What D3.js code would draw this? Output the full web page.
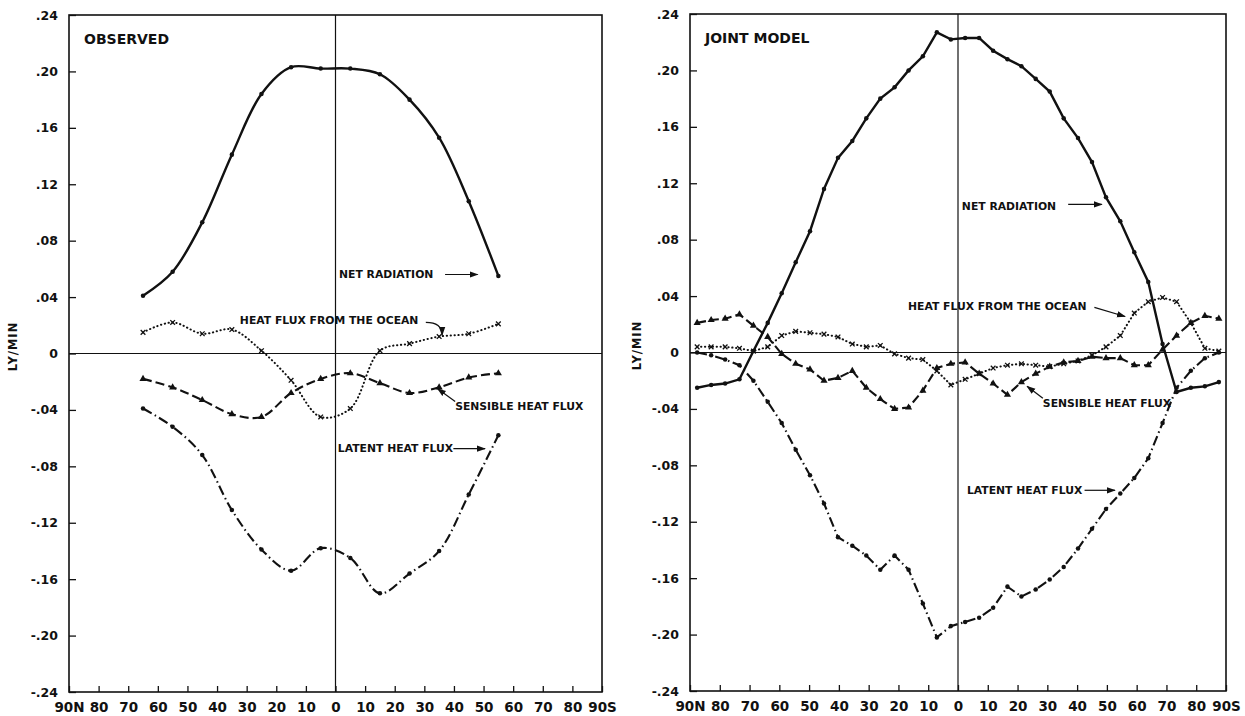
<!DOCTYPE html>
<html>
<head>
<meta charset="utf-8">
<script src="https://cdn.jsdelivr.net/npm/d3@7"></script>
<style>
body { margin: 0; background: #fff; }
svg text { font-family: "DejaVu Sans", sans-serif; font-weight: bold; fill: #111; }
</style>
</head>
<body>
<svg id="chart" width="1245" height="716"></svg>
<script>

// observed zonal means, 10 degree bands (N positive)
var obsLat = [65, 55, 45, 35, 25, 15, 5, -5, -15, -25, -35, -45, -55];
var obsNet = [0.041, 0.058, 0.093, 0.141, 0.184, 0.203, 0.202, 0.202, 0.198, 0.180, 0.153, 0.108, 0.055];
var obsOcean = [0.015, 0.022, 0.014, 0.017, 0.002, -0.019, -0.045, -0.039, 0.002, 0.007, 0.012, 0.014, 0.021];
var obsSens = [-0.018, -0.024, -0.033, -0.043, -0.045, -0.028, -0.018, -0.014, -0.021, -0.028, -0.024, -0.017, -0.014];
var obsLatent = [-0.039, -0.052, -0.072, -0.111, -0.139, -0.154, -0.138, -0.145, -0.170, -0.156, -0.140, -0.100, -0.058];

// joint model grid points
var modelLat = [87.6, 82.9, 78.2, 73.4, 68.7, 63.9, 59.2, 54.5, 49.7, 45.0, 40.3, 35.5, 30.8, 26.1, 21.3, 16.6, 11.8, 7.1, 2.4,
  -2.4, -7.1, -11.8, -16.6, -21.3, -26.1, -30.8, -35.5, -40.3, -45.0, -49.7, -54.5, -59.2, -63.9, -68.7, -73.4, -78.2, -82.9, -87.6];
var modelNet = [-0.025, -0.023, -0.022, -0.019, 0.001, 0.021, 0.042, 0.064, 0.086, 0.116, 0.138, 0.150, 0.166, 0.180, 0.188, 0.200, 0.210, 0.227, 0.222,
  0.223, 0.223, 0.214, 0.208, 0.203, 0.194, 0.185, 0.166, 0.152, 0.135, 0.110, 0.093, 0.071, 0.050, 0.006, -0.028, -0.025, -0.024, -0.021];
var modelOcean = [0.004, 0.004, 0.004, 0.003, 0.001, 0.004, 0.012, 0.015, 0.014, 0.013, 0.011, 0.006, 0.004, 0.005, -0.001, -0.004, -0.005, -0.013, -0.023,
  -0.019, -0.015, -0.011, -0.009, -0.008, -0.009, -0.010, -0.008, -0.006, -0.002, 0.004, 0.012, 0.028, 0.036, 0.039, 0.036, 0.021, 0.003, 0.001];
var modelSens = [0.021, 0.023, 0.024, 0.027, 0.019, 0.011, -0.001, -0.008, -0.012, -0.020, -0.018, -0.013, -0.025, -0.033, -0.040, -0.039, -0.027, -0.011, -0.008,
  -0.007, -0.015, -0.022, -0.030, -0.021, -0.015, -0.010, -0.007, -0.006, -0.003, -0.004, -0.004, -0.009, -0.009, 0.002, 0.012, 0.021, 0.026, 0.024];
var modelLatent = [0.000, -0.002, -0.005, -0.009, -0.020, -0.035, -0.050, -0.069, -0.087, -0.107, -0.131, -0.137, -0.144, -0.154, -0.144, -0.154, -0.178, -0.202, -0.194,
  -0.191, -0.188, -0.181, -0.166, -0.173, -0.168, -0.161, -0.152, -0.139, -0.125, -0.111, -0.100, -0.089, -0.075, -0.050, -0.025, -0.013, -0.004, 0.000];

// axes
var yTicks = [0.24, 0.20, 0.16, 0.12, 0.08, 0.04, 0, -0.04, -0.08, -0.12, -0.16, -0.20, -0.24];
var yLabels = [".24", ".20", ".16", ".12", ".08", ".04", "0", "-.04", "-.08", "-.12", "-.16", "-.20", "-.24"];
var xTicks = [90, 80, 70, 60, 50, 40, 30, 20, 10, 0, -10, -20, -30, -40, -50, -60, -70, -80, -90];
var xLabels = ["90N", "80", "70", "60", "50", "40", "30", "20", "10", "0", "10", "20", "30", "40", "50", "60", "70", "80", "90S"];

var svg = d3.select("#chart");

// arrow head for the labels
svg.append("defs").append("marker")
    .attr("id", "head")
    .attr("viewBox", "0 0 10 10")
    .attr("refX", 9).attr("refY", 5)
    .attr("markerWidth", 9).attr("markerHeight", 9)
    .attr("markerUnits", "userSpaceOnUse")
    .attr("orient", "auto")
  .append("path")
    .attr("d", "M0,1.5 L10,5 L0,8.5 Z")
    .attr("fill", "#111");

function drawPanel(p) {
  var g = svg.append("g")
      .attr("transform", "translate(" + p.left + "," + p.top + ")");

  var x = d3.scaleLinear().domain([90, -90]).range([0, p.width]);
  var y = d3.scaleLinear().domain([-0.24, 0.24]).range([p.height, 0]);

  // frame + zero lines
  g.append("rect")
    .attr("width", p.width).attr("height", p.height)
    .attr("fill", "none").attr("stroke", "#111").attr("stroke-width", 1.6);
  g.append("line")
    .attr("x1", 0).attr("x2", p.width)
    .attr("y1", y(0)).attr("y2", y(0))
    .attr("stroke", "#111").attr("stroke-width", 1.2);
  g.append("line")
    .attr("x1", x(0)).attr("x2", x(0))
    .attr("y1", 0).attr("y2", p.height)
    .attr("stroke", "#111").attr("stroke-width", 1.2);

  var yAxis = d3.axisLeft(y)
    .tickValues(yTicks)
    .tickFormat(function(d, i) { return yLabels[i]; })
    .tickSizeInner(-7).tickSizeOuter(0).tickPadding(11);
  var ya = g.append("g").call(yAxis);
  ya.select(".domain").remove();
  ya.selectAll("text").style("font-size", "12.5px");
  ya.selectAll("line").attr("stroke", "#111").attr("stroke-width", 1.3);

  var xAxis = d3.axisBottom(x)
    .tickValues(xTicks)
    .tickFormat(function(d, i) { return xLabels[i]; })
    .tickSizeInner(-6).tickSizeOuter(0).tickPadding(10);
  var xa = g.append("g")
    .attr("transform", "translate(0," + p.height + ")")
    .call(xAxis);
  xa.select(".domain").remove();
  xa.selectAll("text").style("font-size", "13.5px");
  xa.selectAll("line").attr("stroke", "#111").attr("stroke-width", 1.3);

  g.append("text")
    .attr("transform", "translate(" + p.yLabelX + "," + y(0.005) + ") rotate(-90)")
    .attr("text-anchor", "middle")
    .attr("dy", "0.35em")
    .style("font-size", "11.5px")
    .style("letter-spacing", "1px")
    .text("LY/MIN");

  g.append("text")
    .attr("x", 15).attr("y", 24)
    .attr("dy", "0.35em")
    .style("font-size", "14px")
    .text(p.title);

  var series = [
    {vals: p.net, dash: null, width: 2.4, mark: "dot"},
    {vals: p.ocean, dash: "0.3,3.6", width: 2, mark: "cross"},
    {vals: p.sens, dash: "9,4", width: 2.1, mark: "tri"},
    {vals: p.latent, dash: "10,3.5,1.5,3.5", width: 2.1, mark: "dot"}
  ];

  series.forEach(function(s) {
    var line = d3.line()
      .x(function(d, i) { return x(p.lat[i]); })
      .y(function(d) { return y(d); })
      .curve(p.curve);

    g.append("path")
      .datum(s.vals)
      .attr("d", line)
      .attr("fill", "none")
      .attr("stroke", "#111")
      .attr("stroke-width", s.width)
      .attr("stroke-linecap", s.dash && s.dash.indexOf("0.3") === 0 ? "round" : "butt")
      .attr("stroke-dasharray", s.dash);

    var pts = g.selectAll(null)
      .data(s.vals)
      .enter().append("path")
      .attr("transform", function(d, i) {
        return "translate(" + x(p.lat[i]) + "," + y(d) + ")";
      });

    if (s.mark == "dot") {
      pts.attr("d", d3.symbol(d3.symbolCircle, 16)).attr("fill", "#111");
    } else if (s.mark == "tri") {
      pts.attr("d", d3.symbol(d3.symbolTriangle, 22)).attr("fill", "#111");
    } else {
      pts.attr("d", d3.symbol(d3.symbolTimes, 16))
        .attr("fill", "none").attr("stroke", "#111").attr("stroke-width", 1.3);
    }
  });

  // curve labels with arrows
  p.notes.forEach(function(n) {
    g.append("text")
      .attr("x", x(n.lat)).attr("y", y(n.v))
      .attr("dy", "0.35em")
      .style("font-size", "10.8px")
      .text(n.text);
    var a = n.arrow;
    var path = "M" + x(a[0]) + "," + y(a[1]);
    if (n.bend) {
      path += " Q" + x(a[2]) + "," + y(a[1]) + " " + x(a[2]) + "," + y(a[3]);
    } else {
      path += " L" + x(a[2]) + "," + y(a[3]);
    }
    g.append("path")
      .attr("d", path)
      .attr("fill", "none")
      .attr("stroke", "#111")
      .attr("stroke-width", 1.2)
      .attr("marker-end", "url(#head)");
  });
}

drawPanel({
  left: 69, top: 15, width: 533, height: 677, yLabelX: -56,
  title: "OBSERVED",
  lat: obsLat, net: obsNet, ocean: obsOcean, sens: obsSens, latent: obsLatent,
  curve: d3.curveCatmullRom.alpha(0.5),
  notes: [
    {text: "NET RADIATION", lat: -1.2, v: 0.056, arrow: [-37, 0.056, -48, 0.056]},
    {text: "HEAT FLUX FROM THE OCEAN", lat: 32.3, v: 0.0235, arrow: [-30.5, 0.022, -36, 0.013], bend: true},
    {text: "SENSIBLE HEAT FLUX", lat: -40.4, v: -0.0375, arrow: [-40.4, -0.034, -34.5, -0.025]},
    {text: "LATENT HEAT FLUX", lat: -0.8, v: -0.0675, arrow: [-39.8, -0.0675, -50.5, -0.0675]}
  ]
});

drawPanel({
  left: 690, top: 14, width: 536, height: 677, yLabelX: -53,
  title: "JOINT MODEL",
  lat: modelLat, net: modelNet, ocean: modelOcean, sens: modelSens, latent: modelLatent,
  curve: d3.curveLinear,
  notes: [
    {text: "NET RADIATION", lat: -1.3, v: 0.104, arrow: [-37, 0.105, -48.3, 0.105]},
    {text: "HEAT FLUX FROM THE OCEAN", lat: 16.8, v: 0.033, arrow: [-45.8, 0.032, -56.1, 0.0255]},
    {text: "SENSIBLE HEAT FLUX", lat: -28.5, v: -0.036, arrow: [-28.5, -0.0325, -23.2, -0.024]},
    {text: "LATENT HEAT FLUX", lat: -3.0, v: -0.0977, arrow: [-42.5, -0.0977, -52.7, -0.0977]}
  ]
});

</script>
</body>
</html>
